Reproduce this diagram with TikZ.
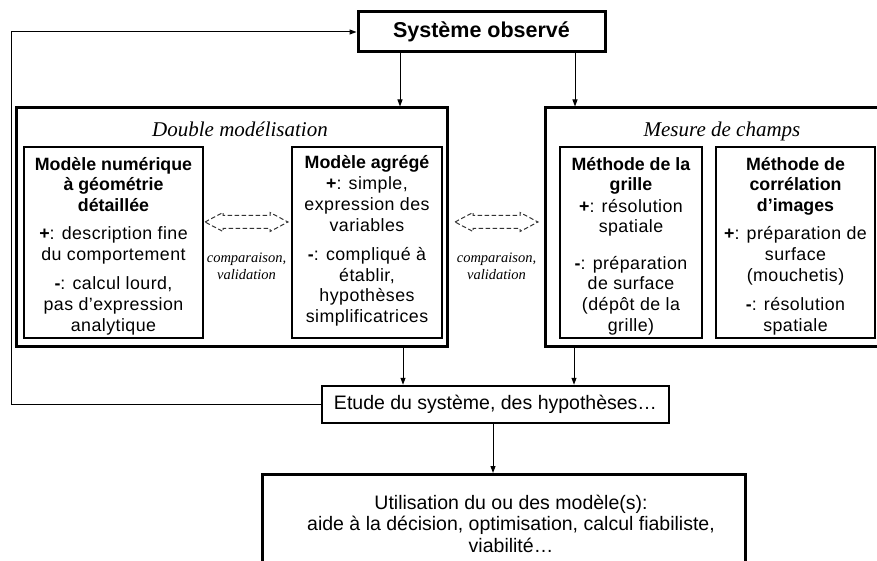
\documentclass[tikz,border=0pt]{standalone}
\usepackage{fontspec}
\setmainfont{Liberation Sans}
\newfontfamily\boxfont{Liberation Sans}[LetterSpace=2.5, BoldFeatures={LetterSpace=0}]
\newfontfamily\tnr{Liberation Serif}
\usetikzlibrary{arrows.meta}
\newcommand\toprl{\rule{0pt}{15pt}}
\begin{document}
\begin{tikzpicture}[x=1pt,y=-1pt,
  thickbox/.style={draw, line width=3pt, inner sep=0pt},
  midbox/.style={draw, line width=2.5pt, inner sep=0pt},
  inbox/.style={draw, line width=1.2pt, inner sep=0pt},
  boxtext/.style={inner sep=0pt, align=center, anchor=north, font=\boxfont\fontsize{17.8}{20.7}\selectfont},
  heading/.style={inner sep=0pt, font=\tnr\itshape\fontsize{21}{25}\selectfont},
  cmptext/.style={inner sep=0pt, align=center, font=\tnr\itshape\fontsize{14.5}{17}\selectfont},
  conn/.style={line width=1pt, -{Triangle[length=7pt,width=5pt]}},
  darr/.pic={\draw[line width=1pt, dash pattern=on 4.5pt off 2.5pt, black!80]
     (-41.5,0) -- (-23.5,-9.5) -- (-23.5,-6.5) -- (23.5,-6.5) -- (23.5,-9.5) -- (41.5,0)
     -- (23.5,9.5) -- (23.5,6.5) -- (-23.5,6.5) -- (-23.5,9.5) -- cycle;}
]
\useasboundingbox (0,0) rectangle (877,561);
\clip (0,0) rectangle (877,561);

% top box
\node[thickbox, minimum width=247pt, minimum height=40pt,
      font=\bfseries\fontsize{21.5}{25}\selectfont] (sys) at (481.5,32) {Système observé};

% outer boxes
\node[thickbox, minimum width=431pt, minimum height=238pt] (dbl) at (231.5,227) {};
\node[thickbox, minimum width=340pt, minimum height=238pt] (mes) at (715,227) {};
\node[heading] (dblhead) at (240,129) {Double modélisation};
\node[heading] (meshead) at (722,131) {Mesure de champs};

% inner boxes
\node[inbox, minimum width=179pt, minimum height=191pt] (num) at (113.5,242.5) {};
\node[inbox, minimum width=150pt, minimum height=191pt] (agr) at (367,242.5) {};
\node[inbox, minimum width=142pt, minimum height=191pt] (gri) at (631,242.5) {};
\node[inbox, minimum width=159pt, minimum height=191pt] (cor) at (795.5,242.5) {};

\node[boxtext] (numtxt) at (113.5,155) {\toprl\textbf{Modèle numérique}\\ \textbf{à géométrie}\\ \textbf{détaillée}\\[7.5pt]
  \textbf{+}: description fine\\ du comportement\\[8.5pt]
  \textbf{-}: calcul lourd,\\ pas d’expression\\ analytique};
\node[boxtext] (agrtxt) at (367,153.5) {\toprl\textbf{Modèle agrégé}\\[0.5pt]
  \textbf{+}: simple,\\ expression des\\ variables\\[8.5pt]
  \textbf{-}: compliqué à\\ établir,\\ hypothèses\\ simplificatrices};
\node[boxtext] (gritxt) at (631,155) {\toprl\textbf{Méthode de la}\\ \textbf{grille}\\[0.5pt]
  \textbf{+}: résolution\\ spatiale\\[15.5pt]
  \textbf{-}: préparation\\ de surface\\ (dépôt de la\\ grille)};
\node[boxtext] (cortxt) at (795.5,155) {\toprl\textbf{Méthode de}\\ \textbf{corrélation}\\ \textbf{d’images}\\[7.5pt]
  \textbf{+}: préparation de\\ surface\\ (mouchetis)\\[8.5pt]
  \textbf{-}: résolution\\ spatiale};

% comparison arrows
\pic at (246.5,222) {darr};
\pic at (496.5,222) {darr};
\node[cmptext] (cmp1) at (246.5,266.5) {comparaison,\\validation};
\node[cmptext] (cmp2) at (496.5,266.5) {comparaison,\\validation};

% study box
\node[midbox, minimum width=347pt, minimum height=37pt,
      font=\fontsize{19.5}{23}\selectfont] (etude) at (495.5,404.5) {Etude du système, des hypothèses…};

% bottom box
\node[thickbox, minimum width=483pt, minimum height=140pt, anchor=north] (use) at (503.5,473) {};
\node[inner sep=0pt, align=center, font=\fontsize{19.5}{21.5}\selectfont] (usetxt) at (511,523.5)
  {Utilisation du ou des modèle(s):\\ aide à la décision, optimisation, calcul fiabiliste,\\ viabilité…};

% connectors
\draw[conn] (sys.south -| 400,0) -- (dbl.north -| 400,0);
\draw[conn] (sys.south -| 575,0) -- (mes.north -| 575,0);
\draw[conn] (dbl.south -| 403,0) -- (etude.north -| 403,0);
\draw[conn] (mes.south -| 574,0) -- (etude.north -| 574,0);
\draw[conn] (etude.south -| 493,0) -- (use.north -| 493,0);
\coordinate (fb) at (11,404.5);
\draw[conn] (etude.west) -- (fb) |- (sys.west);
\end{tikzpicture}
\end{document}
